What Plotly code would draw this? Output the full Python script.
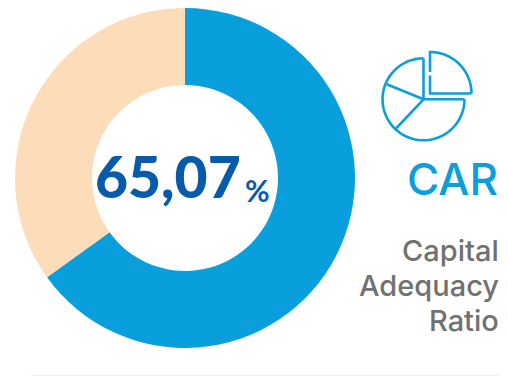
import numpy as np
import plotly.graph_objects as go

W, H = 508, 376

# Donut data
segment_names = ["CAR", "Remainder"]
segment_values = [65.07, 34.93]
segment_colors = ["#089FDC", "#FDDCB9"]

# Text content
value_label = "65,07"
unit_label = "%"
title_label = "CAR"
subtitle_lines = ["Capital", "Adequacy", "Ratio"]

BLUE = "#0A9FDB"
DARK_BLUE = "#075BAA"
GREY = "#717171"


def px(x):
    return x / W


def py(y):
    return 1 - y / H


def arc(cx, cy, r, start, end, n=48):
    """Points along a circle; angles in degrees, clockwise from twelve o'clock."""
    a = np.radians(np.linspace(start, end, n))
    return [(cx + r * np.sin(t), cy - r * np.cos(t)) for t in a]


def path(points):
    return " ".join(f"{'M' if i == 0 else 'L'}{px(x):.5f},{py(y):.5f}" for i, (x, y) in enumerate(points))


fig = go.Figure(
    go.Pie(
        labels=segment_names,
        values=segment_values,
        hole=0.547,
        sort=False,
        direction="clockwise",
        rotation=0,
        marker=dict(colors=segment_colors, line=dict(width=0)),
        textinfo="none",
        hoverinfo="label+value",
        showlegend=False,
        domain=dict(x=[px(15), px(355)], y=[py(348), py(8)]),
    )
)

# Pie-chart pictogram
cx, cy, r = 423.5, 99.3, 41
icon_paths = [
    [(cx + r, cy), (cx, cy)],
    arc(cx, cy, r, 90, 360),
    [(cx, cy - r), (cx, cy)],
    [(386.7, 84.3), (cx, cy)],
    [(396.0, 128.5), (cx, cy)],
    [(430, 72), (430, 52)] + arc(430, 93.5, 41.5, 0, 90),
    [(471.5, 93.5), (430, 93.5), (430, 75.5)],
]
shapes = [
    dict(
        type="path",
        xref="paper",
        yref="paper",
        path=path(p),
        line=dict(color=BLUE, width=2.6),
        fillcolor="rgba(0,0,0,0)",
    )
    for p in icon_paths
]

# Thin rule along the bottom
shapes.append(
    dict(
        type="line",
        xref="paper",
        yref="paper",
        x0=px(31),
        x1=px(499),
        y0=py(375.3),
        y1=py(375.3),
        line=dict(color="#EEEEEE", width=1),
    )
)


def label(text, x, y, size, color, family="Lato, sans-serif", weight=400):
    return dict(
        text=text,
        x=px(x),
        y=py(y),
        xref="paper",
        yref="paper",
        xanchor="right",
        yanchor="middle",
        showarrow=False,
        font=dict(family=family, size=size, color=color, weight=weight),
    )


annotations = [
    label(value_label, 243, 176, 57, DARK_BLUE, weight=900),
    label(unit_label, 272, 190, 30, DARK_BLUE, weight=700),
    label(title_label, 500, 179, 44, BLUE, family="Inter, sans-serif", weight=500),
]
for text, y in zip(subtitle_lines, [250, 285, 320]):
    annotations.append(label(text, 501, y, 29, GREY, family="Inter, sans-serif", weight=500))

fig.update_layout(
    width=W,
    height=H,
    margin=dict(l=0, r=0, t=0, b=0),
    paper_bgcolor="white",
    plot_bgcolor="white",
    shapes=shapes,
    annotations=annotations,
)

fig.write_html("out.html", config=dict(displayModeBar=False))
